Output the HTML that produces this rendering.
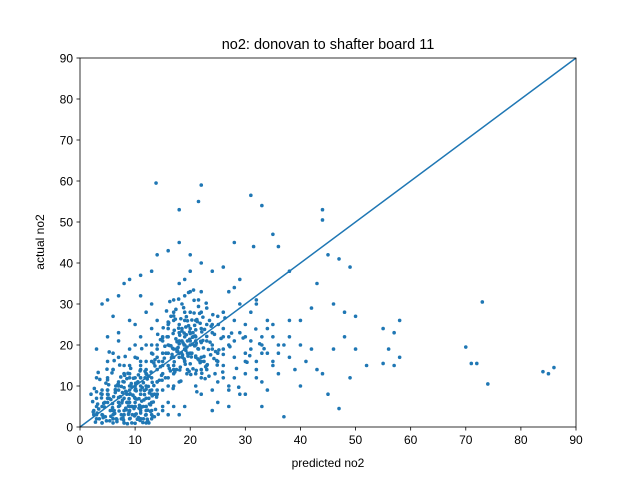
<!DOCTYPE html>
<html><head><meta charset="utf-8"><style>
body{margin:0;background:#fff;}
svg text{font-family:"Liberation Sans","DejaVu Sans",sans-serif;fill:#000;}
</style></head><body>
<svg id="chart" width="640" height="480" xmlns="http://www.w3.org/2000/svg">
<rect width="640" height="480" fill="#fff"/>
<text x="328" y="49" font-size="14.5" text-anchor="middle">no2: donovan to shafter board 11</text>
<text x="328" y="467" font-size="12" text-anchor="middle">predicted no2</text>
<text x="44" y="242" font-size="12" text-anchor="middle" transform="rotate(-90 44 242)">actual no2</text>
<g id="marks"></g>
<g id="axes"></g>
</svg>
<script>
const xTicks=[0,10,20,30,40,50,60,70,80,90];
const yTicks=[0,10,20,30,40,50,60,70,80,90];
const predicted=[3,4,5,6,7,8,9,10,11,12,3.5,4.5,5.5,6.5,7.5,8.5,9.5,10.5,11.5,12.5,4,5,6,7,8,9,10,11,12,13,3,5,7,9,11,13,6,8,10,12,2.5,4,6,8,10,12,14,9,11,13,5,7,9,11,8,10,12,6,14,15,
15,16,17,18,19,20,21,22,23,24,15.5,16.5,17.5,18.5,19.5,20.5,21.5,22.5,23.5,24.5,16,17,18,19,20,21,22,23,25,26,15,17,19,21,23,25,18,20,22,24,16,18,20,22,17,19,21,23,14,13,19,20,18,21,17,22,16,24,19,20,
26,27,28,29,30,31,32,33,34,35,26,28,30,32,34,36,38,27,29,31,33,35,37,39,25,27,29,31,33,35,38,40,42,30,32,34,36,28,26,24,
8,9,10,11,12,13,14,15,10,12,14,16,13,11,9,7,5,6,8,10,12,14,16,15,13,11,9,7,17,16,11,12,13,14,15,10,9,8,18,19,
13.8,22,31,18,21.5,33,44,44,28,31.5,35,36,45,47,49,38,43,48,55,57,58,56,58,55,57,70,71,72,73,74,84,85,86,47,45,40,44,43,41,50,52,49,46,48,50,46,42,40,38,36,37,33,30,27,25,28,32,35,30,33,28,26,30,34,32,27,29,24,22,20,18,16,14,13,11,9,7,5,4,3,2,2.5,3,4,
6,7,8,9,10,11,12,13,6.5,7.5,8.5,9.5,10.5,11.5,12.5,13.5,5,6,7,8,9,10,11,12,17,18,19,20,21,22,18.5,19.5,17.5,18.5,19.5,20.5,21.5,17,19,21,16,18,20,22,15,17,19,21,11,12,13,14,10,11,12,13,3,4,5,3,4,5,6,7,23,24,25,26,27,22,24,26,14,15,16,17,14,15,16,13,
2.3,3.1,3.8,4.6,5.2,5.9,6.7,7.3,8.1,8.8,9.4,10.2,10.9,11.6,12.3,13.1,13.7,2.8,3.6,4.3,5.1,5.8,6.4,7.1,7.8,8.6,9.2,9.9,10.6,11.3,12.1,12.8,13.4,14.2,2.6,3.4,4.9,5.6,6.2,7.6,8.3,9.1,9.7,10.4,11.1,11.8,12.6,13.3,14.4,4.1,5.4,6.9,8.4,9.6,10.8,12.4,13.9,7.2,8.7,10.1,11.4,12.9,6.1,7.4,8.9,10.3,11.7,13.2,3.3,4.7,6.3,7.7,9.3,10.7,12.2,13.6,5.3,8.2,11.2,14.6,
14.6,15.3,16.1,16.8,17.4,18.2,18.9,19.6,20.3,21.1,21.8,22.6,23.3,24.1,24.8,25.6,14.9,15.7,16.4,17.1,17.9,18.6,19.3,20.1,20.8,21.5,22.3,23.1,23.8,24.6,15.1,16.3,17.6,18.4,19.1,19.9,20.6,21.3,22.1,22.9,23.6,16.6,17.3,18.1,18.8,19.4,20.2,20.9,21.7,22.4,13.2,14.1,15.4,16.9,18.3,19.8,21.2,22.7,24.3,25.9,27.2,28.4,29.6,30.8,31.9,33.4,26.3,28.8,30.3,32.6,19.2,20.4,17.7,18.7,21.4,16.2,23.4,25.2,20.7,19.7,
5.6,6.4,7.2,8.0,8.8,9.6,10.4,11.2,12.0,12.8,5.9,6.7,7.5,8.3,9.1,9.9,10.7,11.5,12.3,13.1,6.2,7.0,7.8,8.6,9.4,10.2,11.0,11.8,12.6,13.4,5.3,6.1,6.9,7.7,8.5,9.3,10.1,10.9,11.7,12.5,4.4,5.0,3.9,4.8,3.2,4.2,2.4,3.0,9.8,10.6,11.9,12.7,13.5,8.9,7.9,6.6,9.0,10.0,11.0,12.2,
16.2,16.9,17.6,18.3,19.0,19.7,20.4,21.1,21.8,22.5,16.5,17.2,17.9,18.6,19.3,20.0,20.7,21.4,22.1,22.8,15.8,16.7,17.4,18.1,18.9,19.5,20.3,21.0,21.6,22.3,17.0,17.8,18.5,19.2,19.9,20.5,21.2,21.9,23.0,23.7,14.3,15.0,15.6,24.4,25.1,24.9,26.0,27.5,13.6,14.8,18.0,19.0,20.0,21.0,22.0,17.1,18.9,20.8,19.4,16.0];
const actual=[5,3,7,2,9,4,6,3,8,5,2,6,4,10,3,8,5,11,2,7,9,12,1,6,13,2,7,4,10,3,7,9,11,5,12,6,3,1,9,14,3,1,14,11,5,1,8,15,16,12,16,17,13,2,7,10,4,18,11,5,
18,22,15,25,20,28,17,24,21,19,12,27,19,30,14,23,31,16,26,13,24,10,21,16,33,20,12,29,18,22,9,31,26,10,15,27,35,18,33,23,20,11,24,8,28,32,22,25,20,16,19,21,23,26,17,14,25,9,36,38,
15,20,17,23,13,19,16,22,18,15,28,26,22,12,24,20,17,10,8,28,18,22,20,14,6,5,30,21,11,25,26,20,19,16,31,9,13,34,39,4,
15,19,17,22,20,24,26,21,25,28,14,12,30,32,26,23,22,27,35,20,16,9,6,4,2,14,12,21,5,3,9,13,18,11,15,7,10,13,3,5,
59.5,59,56.5,53,55,54,53,50.5,45,44,47,44,42,41,39,38,35,28,24,23,26,19,17,15.5,15,19.5,15.5,15.5,30.5,10.5,13.5,13,14.5,4.5,8,10,13,14,16,19,15,12,19,22,27,30,29,26,22,18,2.5,5,8,9,11,12,14,16,18,20,21,24,25,26,30,33,36,38,40,42,45,43,42,38,37,36,32,31,30,19,8,4,2,1,
4,6,3,8,5,2,7,4,9,2,6,3,11,5,1,8,8,2,5,1,4,6,12,3,19,17,22,18,20,16,24,21,14,21,18,22,19,26,28,13,15,18,20,17,22,13,16,21,10,13,8,17,12,15,5,9,3,5,9,12,8,6,14,10,14,20,16,19,22,28,25,12,8,16,18,14,19,13,10,20,
6.2,3.4,8.1,2.5,10.3,4.7,1.8,7.4,12.6,5.1,9.8,3.2,13.7,6.6,1.4,10.9,4.3,1.2,11.6,5.8,7.9,13.2,9.1,3.9,11.1,0.8,14.3,7.2,2.3,9.6,12.8,5.4,15.6,3.1,9.4,4.4,14.1,6.7,16.2,5.9,8.7,2.1,11.9,16.8,4.8,13.6,8.3,6.1,11.4,2.9,1.5,10.4,4.2,7.7,5.3,9.9,7.3,15.1,13.1,9.3,1.1,13.4,7.4,12.2,3.6,6.8,8.9,2.6,13.3,10.7,3.3,8.4,10.6,4.6,11.7,16.4,18.3,17.2,19.1,14.7,
21.3,16.8,25.4,19.2,28.7,14.6,22.9,17.3,26.1,20.4,15.7,23.8,18.9,27.4,16.2,21.6,11.4,28.3,13.7,23.6,31.2,17.6,26.9,12.8,19.8,29.4,21.1,15.2,24.6,18.4,24.2,30.6,20.8,18.1,15.3,23.2,33.4,25.7,13.1,30.2,20.7,16.9,26.3,22.4,29.1,19.5,17.1,22.2,27.7,19.3,17.8,22.6,19.7,9.4,11.2,13.6,8.6,11.8,16.7,13.4,19.6,14.3,21.7,17.4,23.9,19.1,26.6,9.7,15.8,20.3,24.4,21.9,18.6,20.5,16.6,19.9,12.4,18.8,30.9,32.8,
2.6,8.4,5.2,9.6,3.1,7.8,1.9,6.3,9.2,3.8,5.7,1.3,9.9,4.6,8.1,2.7,6.9,10.8,4.1,7.6,4.0,7.2,2.2,6.0,1.0,8.8,3.4,12.0,5.6,10.1,7.0,3.9,10.4,6.5,11.8,5.0,10.7,1.6,7.9,12.4,4.9,11.5,7.1,1.5,5.6,2.3,3.7,8.6,4.5,12.7,2.9,8.9,2.5,6.9,1.7,2.0,9.0,0.9,5.0,1.9,
14.3,22.8,18.4,26.4,16.1,24.7,20.2,13.8,25.3,17.2,19.8,13.4,24.1,17.0,22.5,15.4,27.8,19.1,23.2,14.7,22.0,17.7,21.5,13.9,20.0,25.9,18.0,23.7,16.3,26.8,27.1,19.4,23.4,18.7,21.4,14.2,26.2,20.9,22.1,17.6,16.0,21.8,18.0,22.6,25.0,15.1,17.7,22.9,14.9,12.6,20.3,19.0,22.8,17.3,20.6,15.9,16.6,24.8,13.0,25.6];
const refLine=[0,90];

const L=80,R=576,T=58,B=427;
const sx=v=>L+(v-0)/(90-0)*(R-L);
const sy=v=>B-(v-0)/(90-0)*(B-T);
const NS="http://www.w3.org/2000/svg";
const marks=document.getElementById('marks');
const axes=document.getElementById('axes');
function mk(tag,attrs,parent){const e=document.createElementNS(NS,tag);for(const k in attrs)e.setAttribute(k,attrs[k]);parent.appendChild(e);return e;}

for(let i=0;i<predicted.length;i++){
  const c=mk('circle',{cx:sx(predicted[i]),cy:sy(actual[i]),r:1.8,fill:'#1f77b4'},marks);
  
  
}
const ln=mk('line',{x1:sx(refLine[0]),y1:sy(refLine[0]),x2:sx(refLine[1]),y2:sy(refLine[1]),stroke:'#1f77b4','stroke-width':1.5},marks);



const frame=mk('rect',{x:L,y:T,width:R-L,height:B-T,fill:'none',stroke:'#000','stroke-width':0.8},axes);


xTicks.forEach(t=>{
  const x=sx(t);
  const tk=mk('line',{x1:x,y1:B,x2:x,y2:B+3.5,stroke:'#000','stroke-width':0.8},axes);
  
  
  const tx=mk('text',{x:x,y:B+17,'font-size':12,'text-anchor':'middle'},axes);
  tx.textContent=t;
  
  
});
yTicks.forEach(t=>{
  const y=sy(t);
  const tk=mk('line',{x1:L-3.5,y1:y,x2:L,y2:y,stroke:'#000','stroke-width':0.8},axes);
  
  
  const tx=mk('text',{x:L-7,y:y+4.3,'font-size':12,'text-anchor':'end'},axes);
  tx.textContent=t;
  
  
});
</script>
</body></html>
